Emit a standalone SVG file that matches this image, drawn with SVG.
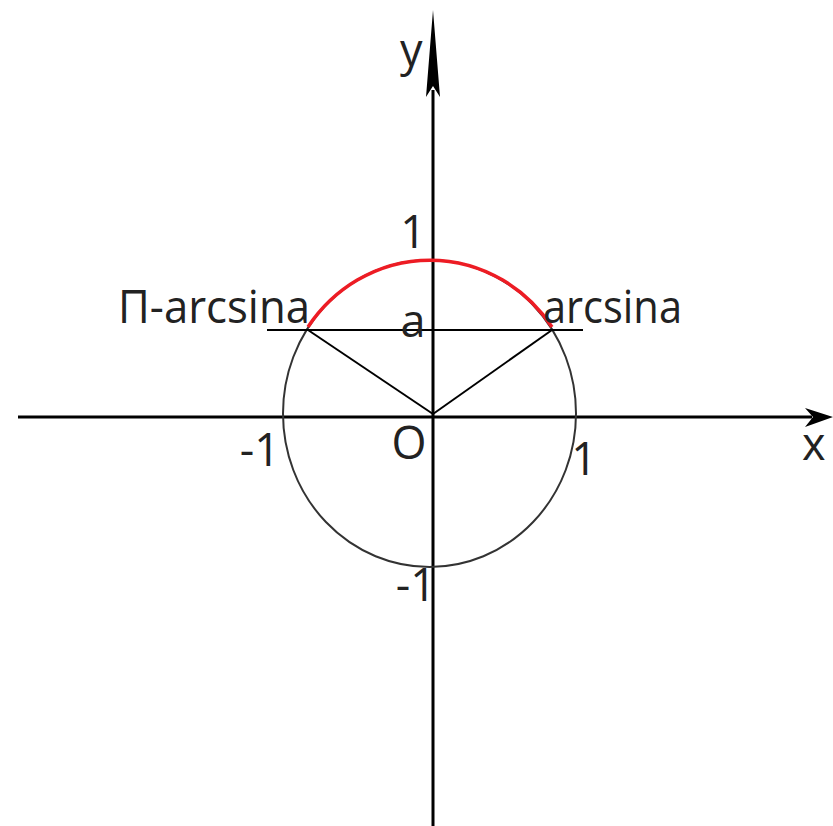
<svg xmlns="http://www.w3.org/2000/svg" width="833" height="826" viewBox="0 0 833 826">
  <style>
    .ax { stroke: #000; stroke-width: 3; fill: none; }
    .thin { stroke: #000; stroke-width: 2; fill: none; }
    .lbl { font-family: "Open Sans", "Noto Sans", sans-serif; font-size: 45px; fill: #222; }
  </style>
  <rect width="833" height="826" fill="#fff"/>
  <g id="axes">
    <line class="ax" x1="18" y1="417" x2="812" y2="417"/>
    <polygon points="833,417 805,408 813,417 805,427" fill="#000"/>
    <line class="ax" x1="433" y1="90" x2="433" y2="826"/>
    <polygon points="433,10 440,97 433,86 426,97" fill="#000"/>
  </g>
  <g id="circle">
    <ellipse cx="429.5" cy="413.5" rx="146.5" ry="153.5" fill="none" stroke="#333" stroke-width="2"/>
  </g>
  <g id="arc">
    <path d="M 308 327 A 148.5 155.5 0 0 1 552 327" fill="none" stroke="#ed1c24" stroke-width="3.5"/>
  </g>
  <g id="lines">
    <line class="thin" x1="267" y1="330" x2="583" y2="330"/>
    <line class="thin" x1="433" y1="414" x2="308" y2="330"/>
    <line class="thin" x1="433" y1="414" x2="552" y2="330"/>
  </g>
  <g id="labels">
    <text class="lbl" x="400" y="66">y</text>
    <text class="lbl" x="802" y="460">x</text>
    <text class="lbl" x="413" y="248" text-anchor="middle">1</text>
    <text class="lbl" x="413" y="337" text-anchor="middle">a</text>
    <text class="lbl" x="543" y="323" textLength="139" lengthAdjust="spacingAndGlyphs">arcsina</text>
    <text class="lbl" x="118" y="323" textLength="192" lengthAdjust="spacingAndGlyphs">Π-arcsina</text>
    <text class="lbl" x="409" y="459" text-anchor="middle">O</text>
    <text class="lbl" x="584" y="475" text-anchor="middle">1</text>
    <text class="lbl" x="280" y="466" text-anchor="end">-1</text>
    <text class="lbl" x="436" y="601" text-anchor="end">-1</text>
  </g>
</svg>
